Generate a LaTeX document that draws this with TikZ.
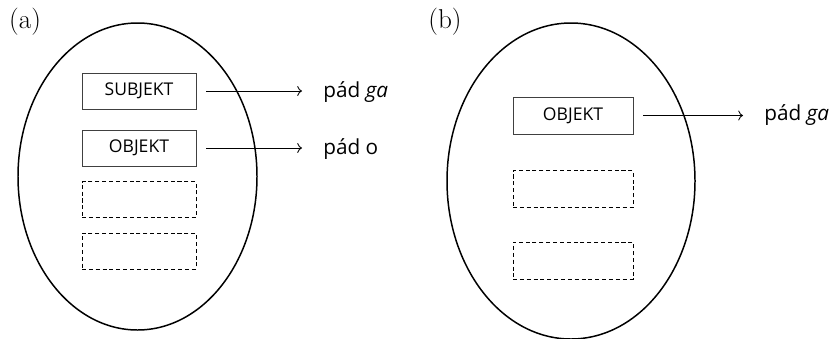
\documentclass[tikz,border=0pt]{standalone}
\usepackage{fontspec}
\setsansfont{Open Sans}
\usepackage{tikz}
\usetikzlibrary{arrows.meta}

\begin{document}
\begin{tikzpicture}[x=0.02cm, y=-0.02cm]
            \tikzstyle{slot}=[draw=black!75, line width=0.5pt, minimum width=2.28cm, minimum height=0.72cm, inner sep=0pt, font=\sffamily\fontsize{10}{12}\selectfont]
            \tikzstyle{emptyslot}=[slot, draw=black, dash pattern=on 2.3pt off 1.6pt]
            \tikzstyle{pad}=[inner sep=0pt, anchor=base west, font=\sffamily\fontsize{11.8}{14}\selectfont]
            \tikzstyle{tag}=[inner sep=0pt, font=\fontsize{15.5}{18}\selectfont]
            \tikzstyle{link}=[->, line width=0.5pt, shorten <=0.2cm, shorten >=0.42cm]

            \clip (0,0) rectangle (834,338);

            %%%%%%%%%%%%%%%%%%%%%%%%%%%%%%%%%%%%%%%%
            % (a)
            \node[tag] (tagA) at (25,22) {(a)};
            \draw[line width=0.85pt] (137.5,176.5) ellipse [x radius=119.5, y radius=153.5];

            \node[slot] (subjA) at (139,91) {SUBJEKT};
            \node[slot] (objA) at (139,148) {OBJEKT};
            \node[emptyslot] (freeA1) at (139,199.5) {};
            \node[emptyslot] (freeA2) at (139,251) {};

            \node[pad] (gaA) at (323,97.5) {pád \textit{ga}};
            \node[pad] (oA) at (323,154) {pád o};
            \draw[link] (subjA.east) -- (subjA.east -| gaA.west);
            \draw[link] (objA.east) -- (objA.east -| oA.west);

            %%%%%%%%%%%%%%%%%%%%%%%%%%%%%%%%%%%%%%%%
            % (b)
            \node[tag] (tagB) at (445,22) {(b)};
            \draw[line width=0.85pt] (571,181) ellipse [x radius=124, y radius=158];

            \node[slot, minimum width=2.4cm, minimum height=0.74cm] (objB) at (573,115.5) {OBJEKT};
            \node[emptyslot, minimum width=2.4cm, minimum height=0.74cm] (freeB1) at (573,189) {};
            \node[emptyslot, minimum width=2.4cm, minimum height=0.74cm] (freeB2) at (573,260.5) {};

            \node[pad] (gaB) at (764,120.5) {pád \textit{ga}};
            \draw[link] (objB.east) -- (objB.east -| gaB.west);
\end{tikzpicture}
\end{document}
